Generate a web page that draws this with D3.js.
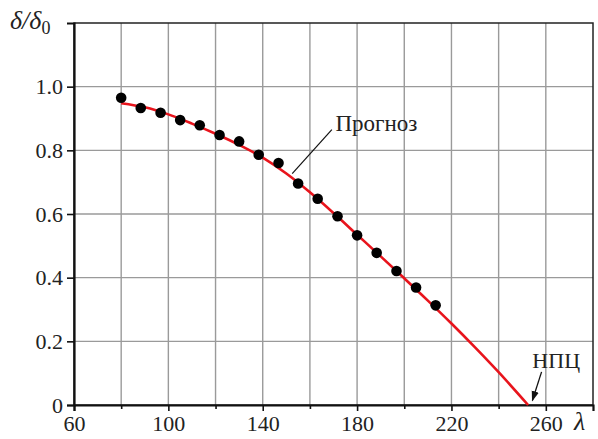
<!DOCTYPE html>
<html>
<head>
<script src='https://cdnjs.cloudflare.com/ajax/libs/d3/7.8.5/d3.min.js'></script>
<style>
svg text, svg tspan { font-family: "Liberation Serif", "Times New Roman", serif !important; }
</style>
</head>
<body style="margin:0">
<script>
// measured points
var ptX = [80, 88.3, 96.7, 105, 113.3, 121.7, 130, 138.3, 146.7, 155, 163.3, 171.7, 180, 188.3, 196.7, 205, 213.3];
var ptY = [0.965, 0.933, 0.918, 0.895, 0.879, 0.848, 0.828, 0.786, 0.760, 0.696, 0.648, 0.593, 0.533, 0.478, 0.421, 0.369, 0.313];
// forecast curve
var fcX = [80, 90, 100, 110, 120, 130, 140, 150, 160, 170, 180, 190, 200, 210, 220, 230, 240, 252.5];
var fcY = [0.948, 0.935, 0.913, 0.884, 0.852, 0.817, 0.777, 0.727, 0.668, 0.603, 0.535, 0.467, 0.398, 0.328, 0.256, 0.181, 0.103, 0];
var xTicks = [60, 100, 140, 180, 220, 260];
var xGrid = [80, 100, 120, 140, 160, 180, 200, 220, 240, 260];
var yTicks = [0, 0.2, 0.4, 0.6, 0.8, 1.0];

var W = 598, H = 439;
var m = {l:74, t:23, r:5, b:34};
var serif = 'Liberation Serif';
var x = d3.scaleLinear().domain([60,280]).range([m.l, W-m.r]);
var y = d3.scaleLinear().domain([0,1.2]).range([H-m.b, m.t]);

var svg = d3.select('body').append('svg').attr('width',W).attr('height',H);

// grid
var grid = svg.append('g');
grid.selectAll('.vx').data(xGrid).enter().append('line')
.attr('x1',function(d){return x(d);}).attr('x2',function(d){return x(d);})
.attr('y1',y(0)).attr('y2',y(1.2))
.attr('stroke','#9a9a9a').attr('stroke-width',1.4);
grid.selectAll('.hy').data(yTicks.slice(1)).enter().append('line')
.attr('x1',x(60)).attr('x2',x(280))
.attr('y1',function(d){return y(d);}).attr('y2',function(d){return y(d);})
.attr('stroke','#9a9a9a').attr('stroke-width',1.4);

// frame
svg.append('rect').attr('x',x(60)).attr('y',y(1.2))
.attr('width',x(280)-x(60)).attr('height',y(0)-y(1.2))
.attr('fill','none').attr('stroke','#222').attr('stroke-width',1.5);

// axes
svg.append('g').attr('transform','translate(0,'+y(0)+')')
.call(d3.axisBottom(x).tickValues(xTicks).tickSize(6).tickPadding(4).tickFormat(d3.format('d')));
svg.append('g').attr('transform','translate(0,'+y(0)+')')
.call(d3.axisBottom(x).tickValues([80,120,160,200,240]).tickSize(4).tickFormat(''))
.select('.domain').remove();
svg.append('g').attr('transform','translate('+x(60)+',0)')
.call(d3.axisLeft(y).tickValues(yTicks).tickSize(7).tickPadding(4)
.tickFormat(function(d){return d===0 ? '0' : d3.format('.1f')(d);}));
svg.selectAll('g').attr('font-family', serif).attr('font-size', 22);
svg.selectAll('.domain').attr('stroke','#111').attr('stroke-width',2.2);
svg.selectAll('.tick line').attr('stroke','#111').attr('stroke-width',1.6);
svg.selectAll('.tick text').attr('fill','#222');

// forecast curve
var fc = fcX.map(function(d,i){return [d, fcY[i]];});
svg.append('path').datum(fc)
.attr('d', d3.line().x(function(d){return x(d[0]);}).y(function(d){return y(d[1]);}).curve(d3.curveMonotoneX))
.attr('fill','none').attr('stroke','#e8141c').attr('stroke-width',2.6);

// points
svg.selectAll('.pt').data(ptX).enter().append('circle')
.attr('cx',function(d){return x(d);})
.attr('cy',function(d,i){return y(ptY[i]);})
.attr('r',5.3).attr('fill','#000');

// annotation: forecast
svg.append('line').attr('x1',x(169.3)).attr('y1',y(0.865)).attr('x2',x(152.5)).attr('y2',y(0.727))
.attr('stroke','#111').attr('stroke-width',1.2);
svg.append('text').attr('x',x(170.8)).attr('y',y(0.86)).attr('font-family',serif).attr('font-size',23).attr('fill','#222').text('Прогноз');

// annotation: НПЦ
svg.append('defs').append('marker').attr('id','ah').attr('viewBox','0 0 10 10')
.attr('refX',9).attr('refY',5).attr('markerWidth',8).attr('markerHeight',8).attr('orient','auto')
.append('path').attr('d','M0,1.5 L10,5 L0,8.5 z').attr('fill','#111');
svg.append('line').attr('x1',x(258.2)).attr('y1',y(0.104)).attr('x2',x(254.3)).attr('y2',y(0.014))
.attr('marker-end','url(#ah)').attr('stroke','#111').attr('stroke-width',1.3);
svg.append('text').attr('x',x(254.3)).attr('y',y(0.116)).attr('font-family',serif).attr('font-size',22).attr('fill','#222').text('НПЦ');

// axis titles
var yt = svg.append('text').attr('x',10).attr('y',29).attr('font-family',serif).attr('font-size',26).attr('font-style','italic').attr('fill','#222');
yt.append('tspan').text('δ/δ');
yt.append('tspan').attr('dy',5).attr('font-size',18).attr('font-style','normal').text('0');
svg.append('text').attr('x',574).attr('y',430).attr('font-family',serif).attr('font-size',26).attr('font-style','italic').attr('fill','#222').text('λ');
</script>
</body>
</html>
